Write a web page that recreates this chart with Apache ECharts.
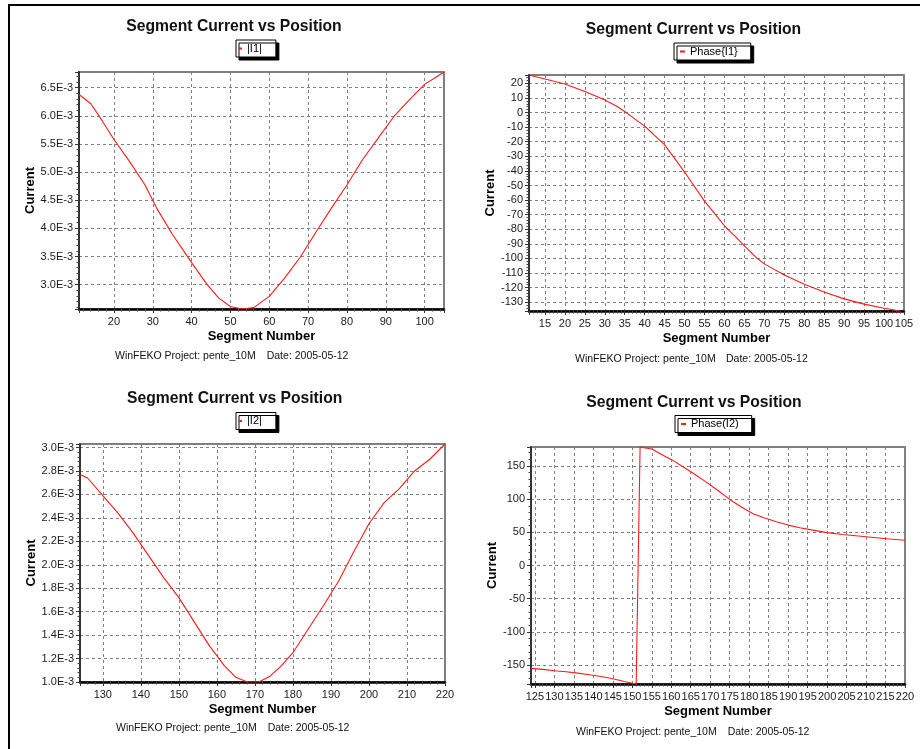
<!DOCTYPE html>
<html><head><meta charset="utf-8">
<script src="https://cdn.jsdelivr.net/npm/echarts@6/dist/echarts.min.js"></script>
<style>html,body{margin:0;padding:0;background:#fff}#c{width:920px;height:749px}</style>
</head><body><div id="c"></div>
<script>
// ---------- data ----------
const segI1 = [11,14,17,20,24,28,31,35,40,44,47,50,53,56,60,64,68,72,76,80,84,88,92,96,100,103,105];
const magI1 = [6.38e-3,6.22e-3,5.91e-3,5.58e-3,5.19e-3,4.77e-3,4.36e-3,3.90e-3,3.39e-3,3.00e-3,2.76e-3,2.61e-3,2.566e-3,2.59e-3,2.79e-3,3.12e-3,3.49e-3,3.93e-3,4.36e-3,4.77e-3,5.22e-3,5.60e-3,5.98e-3,6.28e-3,6.56e-3,6.69e-3,6.78e-3];

const segPh1 = [11,15,20,25,28,30,33,35,37,40,42,45,48,50,52,55,58,60,63,65,68,70,75,80,85,90,95,100,104];
const phaseI1 = [25.7,23.0,19.5,14.4,10.9,8.5,4.3,0.7,-3.3,-9.3,-14.4,-22.2,-33.3,-40.8,-48.8,-60.7,-70.8,-77.6,-85.8,-91.4,-99.5,-103.7,-111.4,-117.7,-123.0,-127.7,-131.3,-134.1,-136.0];

const segI2 = [124,126,130,134,138,142,146,150,154,158,162,165,168,171,174,177,180,184,188,192,196,200,204,208,212,216,220];
const magI2 = [2.77e-3,2.74e-3,2.59e-3,2.44e-3,2.27e-3,2.08e-3,1.89e-3,1.72e-3,1.515e-3,1.31e-3,1.137e-3,1.04e-3,1.00e-3,1.00e-3,1.05e-3,1.14e-3,1.25e-3,1.45e-3,1.65e-3,1.86e-3,2.11e-3,2.35e-3,2.53e-3,2.65e-3,2.80e-3,2.90e-3,3.03e-3];

const segPh2 = [124,127,130,133,136,139,142,145,148,150,151,152,153,155,158,160,163,166,169,172,175,178,181,184,187,190,193,196,200,204,208,212,216,220];
const phaseI2 = [-155,-156.6,-158.6,-160.2,-162.2,-164.6,-167.4,-170.6,-174.8,-177.5,-178.6,178.6,177.5,175.6,165.9,159.9,148.8,137.5,125.7,113,99.6,88.2,78.1,71.6,65.9,60.9,56.9,53.7,49.5,46.8,44.5,42.3,40,38];

const seriesNames = ['|I1|','Phase{I1}','|I2|','Phase(I2)'];
const titleText = 'Segment Current vs Position';
const xName = 'Segment Number';
const yName = 'Current';
const footProject = 'WinFEKO Project: pente_10M';
const footDate = 'Date: 2005-05-12';

// ---------- layout / styles ----------
const FONT = '"Liberation Sans", Arial, Helvetica, sans-serif';
const sciFmt = v => (v * 1000).toFixed(1) + 'E-3';
const numFmt = v => String(Math.round(v));

const panels = [
  {xs: segI1, ys: magI1, grid:{left:79, top:72, width:365, height:237},
   xMin:11, xMax:105, xInt:10, xShowMax:false, yInt:0.5e-3, yMin:'dataMin', yShowMin:false, yFmt:sciFmt, yGap:41,
   tx:234, ty:18.5, leg:{left:236, top:40, padding:[3,14,3,3], itemWidth:3},
   foot:{px:115, dx:266.7, y:356}},
  {xs: segPh1, ys: phaseI1, grid:{left:529, top:75, width:375, height:236},
   xMin:11, xMax:105, xInt:5, xShowMax:true, yInt:10, yMin:'dataMin', yShowMin:false, yFmt:numFmt, yGap:31,
   tx:693.5, ty:21.5, leg:{left:674, top:43, padding:[3,13,3,6], itemWidth:5},
   foot:{px:575, dx:726, y:359.3}},
  {xs: segI2, ys: magI2, grid:{left:80, top:444, width:365, height:238},
   xMin:124, xMax:220, xInt:10, xShowMax:true, yInt:0.2e-3, yMin:'dataMin', yShowMin:true, yFmt:sciFmt, yGap:42,
   tx:234.7, ty:390.5, leg:{left:236, top:412.5, padding:[3,14,3,3], itemWidth:3},
   foot:{px:116, dx:267.7, y:728.3}},
  {xs: segPh2, ys: phaseI2, grid:{left:531, top:447, width:374, height:237},
   xMin:124, xMax:220, xInt:5, xShowMax:true, yInt:50, yMin:'dataMin', yShowMin:false, yFmt:numFmt, yGap:32,
   tx:694, ty:394.5, leg:{left:675, top:415.5, padding:[3,13,3,6], itemWidth:5},
   foot:{px:576, dx:727.7, y:731.7}}
];

const grids = [], xAxes = [], yAxes = [], series = [], legends = [], titles = [], graphics = [];
const tickLbl = {fontFamily: FONT, fontSize: 11, color: '#1a1a1a'};
const axisNameStyle = {fontFamily: FONT, fontSize: 13, fontWeight: 'bold', color: '#000'};

panels.forEach((p, i) => {
  grids.push(Object.assign({show: true, borderColor: '#555', borderWidth: 1.5, backgroundColor: '#fff'}, p.grid));
  xAxes.push({
    gridIndex: i, type: 'value', min: p.xMin, max: p.xMax,
    minInterval: p.xInt, maxInterval: p.xInt, splitNumber: Math.round((p.xMax - p.xMin) / p.xInt),
    name: xName, nameLocation: 'middle', nameGap: 21, nameTextStyle: axisNameStyle,
    axisLine: {show: true, onZero: false, lineStyle: {color: '#000', width: 2.5}},
    axisTick: {show: true, length: 4, lineStyle: {color: '#333'}},
    minorTick: {show: true, splitNumber: 5, length: 2.5, lineStyle: {color: '#444'}},
    splitLine: {show: true, lineStyle: {color: '#808080', width: 1, type: [3, 3]}},
    axisLabel: Object.assign({margin: 7, showMinLabel: false, showMaxLabel: p.xShowMax, formatter: numFmt}, tickLbl)
  });
  yAxes.push({
    gridIndex: i, type: 'value', min: p.yMin, max: 'dataMax', scale: true,
    minInterval: p.yInt, maxInterval: p.yInt, splitNumber: 8,
    name: yName, nameLocation: 'middle', nameGap: p.yGap, nameTextStyle: axisNameStyle,
    axisLine: {show: true, onZero: false, lineStyle: {color: '#333', width: 2}},
    axisTick: {show: true, length: 4, lineStyle: {color: '#333'}},
    minorTick: {show: true, splitNumber: 5, length: 2.5, lineStyle: {color: '#444'}},
    splitLine: {show: true, lineStyle: {color: '#808080', width: 1, type: [3, 3]}},
    axisLabel: Object.assign({margin: 6, showMinLabel: p.yShowMin, showMaxLabel: false, formatter: p.yFmt}, tickLbl)
  });
  series.push({
    name: seriesNames[i], type: 'line', xAxisIndex: i, yAxisIndex: i,
    data: p.xs.map((x, k) => [x, p.ys[k]]),
    showSymbol: false, symbol: 'none', smooth: false,
    lineStyle: {color: '#ff1a1a', width: 1.1}, itemStyle: {color: '#ff1a1a'}
  });
  legends.push({
    data: [seriesNames[i]], left: p.leg.left, top: p.leg.top, orient: 'horizontal',
    padding: p.leg.padding, itemWidth: p.leg.itemWidth, itemHeight: 2, icon: 'rect',
    backgroundColor: '#fff', borderColor: '#000', borderWidth: 1, borderRadius: 0,
    shadowColor: '#000', shadowBlur: 0, shadowOffsetX: 3, shadowOffsetY: 3,
    textStyle: {fontFamily: FONT, fontSize: 11, color: '#000'}, selectedMode: false
  });
  titles.push({
    text: titleText, left: p.tx, top: p.ty, textAlign: 'center', padding: 0,
    textStyle: {fontFamily: FONT, fontSize: 15.7, fontWeight: 'bold', color: '#111'}
  });
  graphics.push({type: 'text', x: p.foot.px, y: p.foot.y,
    style: {text: footProject, font: '10.5px ' + FONT, fill: '#111', textAlign: 'left', textVerticalAlign: 'middle'}});
  graphics.push({type: 'text', x: p.foot.dx, y: p.foot.y,
    style: {text: footDate, font: '10.5px ' + FONT, fill: '#111', textAlign: 'left', textVerticalAlign: 'middle'}});
});

// outer frame (top and left edges)
graphics.push({type: 'line', shape: {x1: 8, y1: 5, x2: 920, y2: 5}, style: {stroke: '#000', lineWidth: 2}});
graphics.push({type: 'line', shape: {x1: 9, y1: 5, x2: 9, y2: 749}, style: {stroke: '#000', lineWidth: 2}});

const chart = echarts.init(document.getElementById('c'), null, {renderer: 'canvas'});
chart.setOption({
  animation: false,
  backgroundColor: '#fff',
  title: titles,
  legend: legends,
  grid: grids,
  xAxis: xAxes,
  yAxis: yAxes,
  series: series,
  graphic: graphics
});
</script>
</body></html>
